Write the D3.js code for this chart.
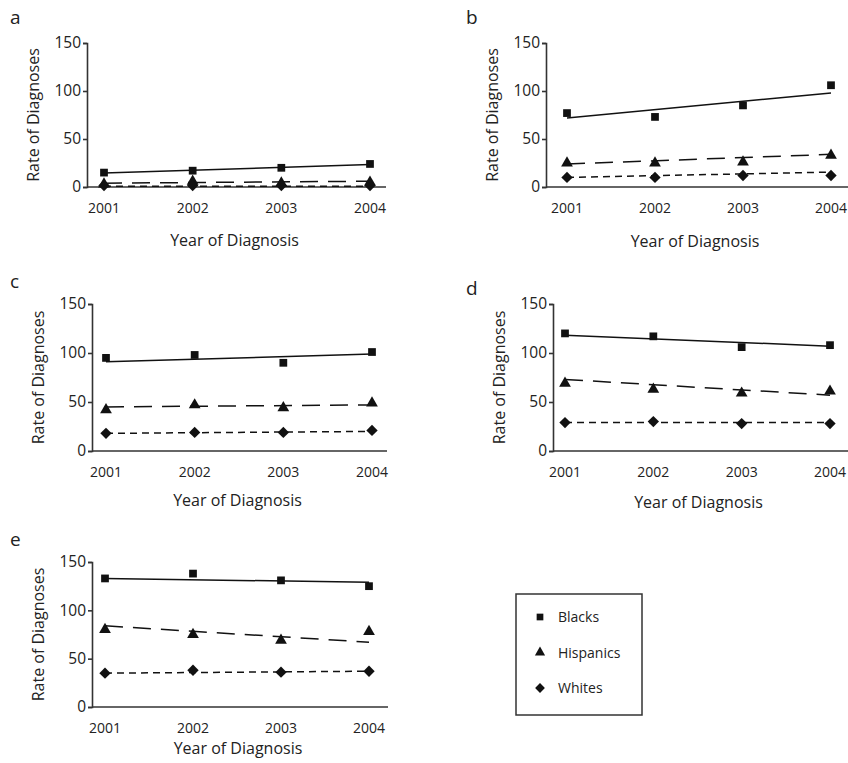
<!DOCTYPE html>
<html>
<head>
<meta charset="utf-8">
<script src="https://cdn.jsdelivr.net/npm/d3@7"></script>
<style>
  body { margin: 0; background: #fff; }
  text { font-family: "Open Sans", "DejaVu Sans", sans-serif; fill: #222; }
</style>
</head>
<body>
<div id="chart"></div>
<script>
// data
var years = [2001, 2002, 2003, 2004];
var groups = ["Blacks", "Hispanics", "Whites"];
var panelNames = ["a", "b", "c", "d", "e"];
var yTicks = [0, 50, 100, 150];

// rates per panel (a..e), one row per panel
var blacks = [
  [15, 17, 20, 24],
  [77, 73, 85, 106],
  [95, 98, 90, 101],
  [120, 117, 106, 108],
  [133, 138, 131, 125]
];
var hispanics = [
  [3, 6, 4, 5],
  [25, 25, 26, 33],
  [42, 47, 44, 49],
  [69, 63, 59, 61],
  [80, 75, 69, 78]
];
var whites = [
  [1.5, 1.5, 1.5, 1.5],
  [10, 10, 12, 12],
  [18, 19, 19, 21],
  [29, 30, 28, 28],
  [35, 38, 36, 37]
];

// fitted trend lines, value at 2001 and at 2004
var blacksTrend = [[14.5, 23.5], [72, 98], [91, 99], [118, 107], [133, 129]];
var hispanicsTrend = [[4, 6], [24, 34], [45, 47], [73, 57], [84, 67]];
var whitesTrend = [[0.7, 0.9], [10, 15.5], [18, 20], [29, 29], [35, 37]];

var w = 848, h = 763;

// where each panel sits on the page
var layout = [
  { left: 87,  top: 43,  bottom: 187, x0: 104, x1: 370, end: 386, lx: 10,  ly: 24,  ty: 246 },
  { left: 546, top: 43,  bottom: 187, x0: 567, x1: 831, end: 848, lx: 466, ly: 24,  ty: 247 },
  { left: 92,  top: 304, bottom: 451, x0: 106, x1: 372, end: 387, lx: 10,  ly: 288, ty: 506 },
  { left: 553, top: 304, bottom: 451, x0: 565, x1: 830, end: 848, lx: 466, ly: 295, ty: 508 },
  { left: 92,  top: 562, bottom: 707, x0: 105, x1: 369, end: 388, lx: 10,  ly: 546, ty: 754 }
];

// rotated square looks like the diamonds in the figure
var diamond = {
  draw: function (ctx, size) {
    var r = Math.sqrt(size / 2);
    ctx.moveTo(0, -r);
    ctx.lineTo(r, 0);
    ctx.lineTo(0, r);
    ctx.lineTo(-r, 0);
    ctx.closePath();
  }
};

var series = [
  { name: groups[0], rates: blacks, trend: blacksTrend, dash: null, shape: d3.symbolSquare, size: 60 },
  { name: groups[1], rates: hispanics, trend: hispanicsTrend, dash: "18,10", shape: d3.symbolTriangle, size: 60 },
  { name: groups[2], rates: whites, trend: whitesTrend, dash: "7,5", shape: diamond, size: 64 }
];

var svg = d3.select("#chart")
  .append("svg")
  .attr("width", w)
  .attr("height", h);

panelNames.forEach(function (p, i) {
  var L = layout[i];
  var x = d3.scaleLinear().domain([2001, 2004]).range([L.x0, L.x1]);
  var y = d3.scaleLinear().domain([0, 150]).range([L.bottom, L.top]);
  var g = svg.append("g");

  // y axis
  var yAxis = d3.axisLeft(y).tickValues(yTicks).tickSize(4).tickPadding(2);
  var ya = g.append("g").attr("transform", "translate(" + L.left + ",0)").call(yAxis);
  ya.select(".domain").attr("stroke", "#333").attr("stroke-width", 1.6);
  ya.selectAll(".tick line").attr("stroke", "#333").attr("stroke-width", 1.6);
  ya.selectAll("text").style("font-size", "15.5px").attr("fill", "#222");

  // x axis, just a baseline with year labels
  g.append("line")
    .attr("x1", L.left).attr("x2", L.end)
    .attr("y1", L.bottom).attr("y2", L.bottom)
    .attr("stroke", "#333").attr("stroke-width", 1.7);
  g.selectAll(".yr")
    .data(years)
    .enter()
    .append("text")
    .attr("x", function (d) { return x(d); })
    .attr("y", L.bottom + 26)
    .attr("text-anchor", "middle")
    .style("font-size", "14px")
    .text(function (d) { return d; });

  g.append("text")
    .attr("x", (L.left + L.end) / 2 - 2)
    .attr("y", L.ty)
    .attr("text-anchor", "middle")
    .style("font-size", "16px")
    .text("Year of Diagnosis");

  g.append("text")
    .attr("transform", "translate(" + (L.left - 48) + "," + ((L.top + L.bottom) / 2) + ") rotate(-90)")
    .attr("text-anchor", "middle")
    .style("font-size", "16px")
    .text("Rate of Diagnoses");

  g.append("text")
    .attr("x", L.lx).attr("y", L.ly)
    .style("font-size", "19px")
    .text(p);

  series.forEach(function (s) {
    var t = s.trend[i];
    g.append("line")
      .attr("x1", x(years[0])).attr("y1", y(t[0]))
      .attr("x2", x(years[years.length - 1])).attr("y2", y(t[1]))
      .attr("stroke", "#111")
      .attr("stroke-width", 1.5)
      .attr("stroke-dasharray", s.dash);

    g.selectAll(null)
      .data(s.rates[i])
      .enter()
      .append("path")
      .attr("d", d3.symbol().type(s.shape).size(s.size))
      .attr("transform", function (d, j) { return "translate(" + x(years[j]) + "," + y(d) + ")"; })
      .attr("fill", "#111");
  });
});

// legend
var leg = svg.append("g").attr("transform", "translate(516,594)");
leg.append("rect")
  .attr("width", 126).attr("height", 121)
  .attr("fill", "none").attr("stroke", "#333").attr("stroke-width", 1.5);
series.forEach(function (s, k) {
  var ry = 23 + k * 35.5;
  leg.append("path")
    .attr("d", d3.symbol().type(s.shape).size(s.size * 0.75))
    .attr("transform", "translate(24," + ry + ")")
    .attr("fill", "#111");
  leg.append("text")
    .attr("x", 42).attr("y", ry + 5)
    .style("font-size", "14px")
    .text(s.name);
});
</script>
</body>
</html>
